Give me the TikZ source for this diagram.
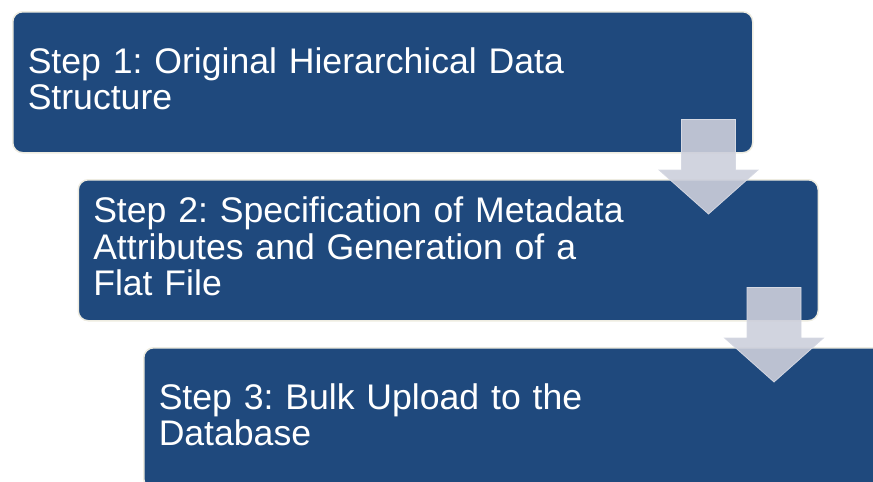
\documentclass[tikz,border=0pt]{standalone}
\usepackage{fontspec}
\setmainfont{Liberation Sans}
\frenchspacing
\definecolor{stepblue}{RGB}{31,73,125}
\definecolor{stepedge}{RGB}{238,236,225}
\definecolor{arrowgray}{RGB}{204,207,219}
\definecolor{arrowedge}{RGB}{214,217,227}
\begin{document}
\begin{tikzpicture}[x=1pt,y=1pt]
  % Define styles for steps and arrows
  \tikzstyle{stepbox} = [draw=stepedge, line width=1.5pt, fill=stepblue, rounded corners=10pt, anchor=north west, minimum width=740pt, minimum height=141pt, inner xsep=15pt, inner ysep=0pt, text width=710pt, align=left, text=white, font=\fontsize{35.6}{36.5}\selectfont, execute at end node={\vphantom{g}}]
  \tikzstyle{blockarrow} = [fill=arrowgray, fill opacity=.9, draw=arrowedge, line width=.75pt]

  \clip (0,0) rectangle (873,-482);

  % Draw the steps
  \foreach \i/\txt in {1/{Step 1: Original Hierarchical Data\\Structure},
                       2/{Step 2: Specification of Metadata\\Attributes and Generation of a\\Flat File},
                       3/{Step 3: Bulk Upload to the\\Database}} {
    \node(b\i)[stepbox] at ({12+65.5*(\i-1)}, {-11-168*(\i-1)}) {\txt};
  }

  % Arrows between the steps
  \foreach \from/\to in {b1/b2, b2/b3} {
    \coordinate (t) at ([shift={(-45pt,34pt)}]\from.south east);
    \coordinate (h0) at (t |- \to.north);
    \coordinate (h) at ([yshift=-35pt]h0);
    \draw[blockarrow] ([xshift=-27pt]t) -- ([xshift=27pt]t) -- ([shift={(27pt,44pt)}]h)
      -- ([shift={(49.5pt,44pt)}]h) -- (h) -- ([shift={(-49.5pt,44pt)}]h)
      -- ([shift={(-27pt,44pt)}]h) -- cycle;
  }
\end{tikzpicture}
\end{document}
